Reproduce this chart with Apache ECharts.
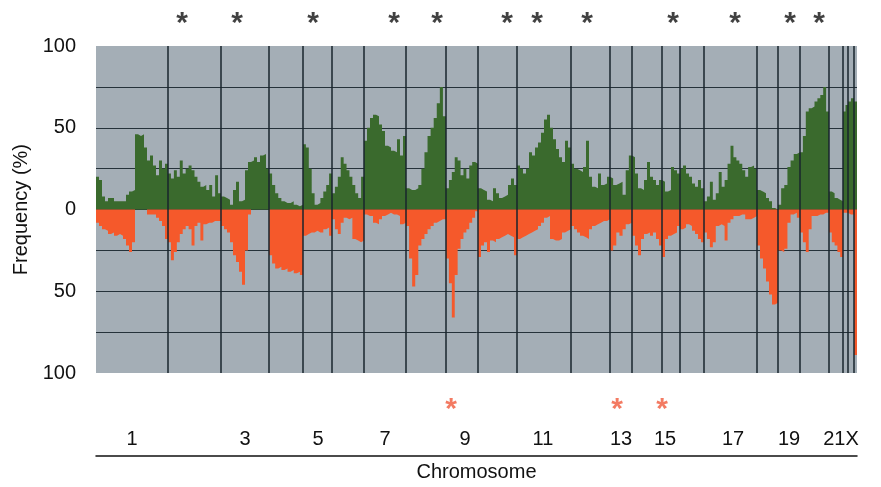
<!DOCTYPE html>
<html>
<head>
<meta charset="utf-8">
<title>Gain / loss frequency by chromosome</title>
<script src="https://cdn.jsdelivr.net/npm/echarts@6/dist/echarts.min.js"></script>
<style>
  html, body { margin: 0; padding: 0; background: #fff; }
  #chart { width: 881px; height: 487px; }
</style>
</head>
<body>
<div id="chart"></div>
<script>
// chromosome edges along the genome axis (1..22, X, Y)
const chromEdges = [0, 72, 125, 173, 207, 236, 268, 310, 350, 382, 421, 475, 514,
  536, 566, 584, 608, 661, 682, 704, 733, 747, 752, 758, 761];

// tick labels under the plot and where they sit
const chromLabels = ['1', '3', '5', '7', '9', '11', '13', '15', '17', '19', '21X'];
const labelPos = [36, 149, 222, 289, 369, 447, 525, 569, 637, 693, 745];

// gain frequency (%) per chromosome, evenly spaced inside each one
const gain = [
  [20, 18, 8, 5, 7, 7, 5, 5, 5, 5, 9, 11, 12, 46, 45, 46, 38, 30, 33, 27, 21, 30, 25, 28],
  [22, 19, 24, 20, 30, 22, 25, 27, 24, 20, 17, 14, 15, 12, 15, 8, 21, 10],
  [8, 7, 6, 3, 12, 17, 5, 6, 24, 29, 30, 32, 29, 33, 34, 25],
  [22, 15, 10, 7, 5, 4, 4, 5, 3, 2, 3],
  [40, 38, 25, 10, 3, 4, 7, 11, 15, 22],
  [10, 14, 20, 32, 28, 24, 20, 15, 10, 7, 20],
  [42, 50, 56, 58, 57, 52, 48, 39, 38, 36, 35, 43, 33, 45],
  [13, 12, 12, 13, 15, 25, 35, 45, 50, 56, 65, 75, 57],
  [13, 18, 23, 32, 30, 21, 25, 19, 27, 29, 28],
  [13, 12, 11, 6, 5, 13, 10, 7, 8, 9, 15, 19, 15],
  [27, 25, 22, 25, 35, 33, 38, 41, 47, 55, 58, 50, 43, 37, 32, 29, 42, 38],
  [28, 25, 24, 23, 26, 42, 20, 14, 13, 22, 15, 16, 20],
  [19, 15, 16, 17, 9, 24, 33],
  [32, 22, 13, 12, 18, 29, 20, 18, 15, 18],
  [17, 11, 12, 26, 24, 22],
  [25, 27, 22, 20, 16, 14, 18, 13],
  [5, 8, 17, 6, 10, 23, 14, 18, 28, 39, 32, 30, 28, 24, 20, 26, 27, 25],
  [12, 11, 10, 7, 5, 1, 0],
  [3, 13, 15, 26, 30, 34, 35],
  [35, 45, 60, 62, 63, 66, 68, 70, 75, 60],
  [11, 10, 7, 6, 5],
  [60, 64],
  [66, 68],
  [66]
];

// loss frequency (%) per chromosome, drawn downwards
const loss = [
  [8, 10, 12, 13, 15, 14, 16, 15, 16, 18, 22, 26, 20, 0, 0, 0, 0, 3, 3, 3, 5, 7, 10, 18],
  [20, 31, 26, 20, 15, 12, 10, 12, 22, 10, 8, 19, 9, 8, 8, 7, 7, 7],
  [10, 12, 14, 20, 28, 32, 38, 46, 25, 3, 0, 0, 0, 0, 0, 0],
  [28, 33, 36, 35, 37, 36, 38, 37, 39, 38, 40],
  [16, 15, 14, 14, 13, 14, 14, 12, 11, 16],
  [6, 12, 15, 8, 5, 6, 5, 18, 19, 20, 19],
  [3, 4, 4, 8, 9, 6, 4, 3, 2, 3, 3, 4, 9, 8],
  [10, 30, 47, 40, 22, 18, 15, 12, 10, 8, 7, 6, 6],
  [30, 45, 66, 40, 24, 18, 14, 12, 8, 5, 1],
  [29, 22, 20, 26, 19, 20, 18, 17, 16, 15, 16, 17, 28],
  [18, 17, 16, 15, 14, 13, 12, 10, 8, 5, 4, 18, 19, 19, 18, 14, 13, 12],
  [10, 12, 14, 16, 17, 18, 12, 10, 9, 8, 7, 7, 6],
  [25, 22, 14, 16, 12, 9, 8],
  [16, 22, 28, 18, 15, 14, 16, 14, 18, 22],
  [29, 18, 16, 15, 14, 10],
  [12, 11, 9, 10, 13, 15, 18, 20],
  [14, 18, 23, 20, 10, 9, 10, 19, 8, 6, 4, 4, 3, 3, 6, 6, 5, 4],
  [22, 30, 36, 44, 52, 58, 57],
  [25, 26, 24, 8, 3, 2, 5],
  [14, 20, 26, 12, 4, 4, 3, 3, 2, 2],
  [14, 20, 22, 26, 29],
  [2, 2],
  [3, 3],
  [89]
];

// significance marks (genome position)
const gainStars = [86, 141, 217, 298, 341, 411, 441, 491, 577, 639, 694, 723];
const lossStars = [355, 521, 566];

const FONT = 'Liberation Sans, Arial, sans-serif';

// turn per-chromosome bins into step points
function toSteps(profile, sign) {
  let pts = [];
  profile.forEach(function (vals, c) {
    let s = chromEdges[c];
    let w = (chromEdges[c + 1] - s) / vals.length;
    vals.forEach(function (v, i) {
      pts.push([s + i * w, sign * v]);
    });
  });
  let last = profile[profile.length - 1];
  pts.push([chromEdges[chromEdges.length - 1], sign * last[last.length - 1]]);
  return pts;
}

function starSeries(xs, y, color) {
  return {
    type: 'scatter',
    clip: false,
    silent: true,
    symbolSize: 0,
    data: xs.map(function (x) { return [x, y]; }),
    label: {
      show: true,
      position: 'inside',
      formatter: '*',
      color: color,
      fontSize: 30,
      fontWeight: 'bold',
      fontFamily: FONT
    },
    z: 6
  };
}

let chart = echarts.init(document.getElementById('chart'));
let option = {
  animation: false,
  backgroundColor: '#ffffff',
  grid: {
    left: 96, right: 24, top: 46, bottom: 112,
    show: true,
    backgroundColor: '#a4aeb6',
    borderWidth: 0
  },
  xAxis: {
    type: 'value',
    min: 0,
    max: chromEdges[chromEdges.length - 1],
    offset: 83,
    name: 'Chromosome',
    nameLocation: 'middle',
    nameGap: 5,
    nameTextStyle: { color: '#111', fontSize: 20, fontFamily: FONT, verticalAlign: 'top' },
    axisLine: { onZero: false, lineStyle: { color: '#111', width: 1.5 } },
    axisTick: { show: false },
    splitLine: { show: false },
    axisLabel: {
      inside: true,
      margin: 7,
      color: '#111',
      fontSize: 20,
      fontFamily: FONT,
      customValues: labelPos,
      formatter: function (v) {
        let i = labelPos.indexOf(v);
        return i >= 0 ? chromLabels[i] : '';
      }
    }
  },
  yAxis: {
    type: 'value',
    min: -100,
    max: 100,
    interval: 25,
    name: 'Frequency (%)',
    nameLocation: 'middle',
    nameGap: 63,
    nameTextStyle: { color: '#111', fontSize: 20, fontFamily: FONT },
    axisLine: { show: false },
    axisTick: { show: false },
    axisLabel: {
      margin: 20,
      color: '#111',
      fontSize: 20,
      fontFamily: FONT,
      formatter: function (v) {
        return v % 50 === 0 ? String(Math.abs(v)) : '';
      }
    },
    splitLine: {
      show: true,
      showMinLine: false,
      showMaxLine: false,
      lineStyle: { color: '#25323a', width: 1 }
    }
  },
  series: [
    {
      name: 'Gain',
      type: 'line',
      step: 'end',
      data: toSteps(gain, 1),
      symbol: 'none',
      silent: true,
      lineStyle: { width: 0 },
      areaStyle: { color: '#3a6a2d', opacity: 1, origin: 'auto' },
      z: 2
    },
    {
      name: 'Loss',
      type: 'line',
      step: 'end',
      data: toSteps(loss, -1),
      symbol: 'none',
      silent: true,
      lineStyle: { width: 0 },
      areaStyle: { color: '#f5592b', opacity: 1, origin: 'auto' },
      z: 2
    },
    {
      // chromosome boundaries
      type: 'line',
      data: [[0, 0]],
      symbol: 'none',
      silent: true,
      lineStyle: { width: 0 },
      z: 4,
      markLine: {
        silent: true,
        symbol: ['none', 'none'],
        label: { show: false },
        lineStyle: { color: '#18242c', width: 1.5, type: 'solid' },
        data: chromEdges.slice(1, -1).map(function (x) { return { xAxis: x }; })
      }
    },
    starSeries(gainStars, 113.5, '#111'),
    starSeries(lossStars, -122.5, '#f05a3c')
  ]
};
chart.setOption(option);
window.onresize = function () {
  chart.resize();
};
</script>
</body>
</html>
